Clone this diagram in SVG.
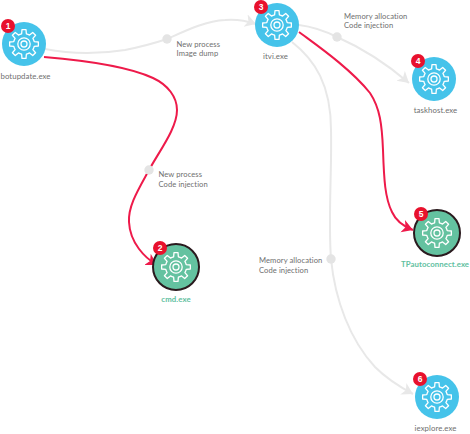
<svg xmlns="http://www.w3.org/2000/svg" width="470" height="434" viewBox="0 0 470 434">
<style>
text{font-family:"Lato","Liberation Sans",sans-serif;font-size:7.6px;fill:#6f6f6f;letter-spacing:.08px}
.name{text-anchor:middle;font-size:7.8px}
.green{fill:#5fc0a0;font-weight:700}
.g{fill:none;stroke:#e8e8e8;stroke-width:2}
.r{fill:none;stroke:#ee1a4a;stroke-width:2}
.dot{fill:#e4e4e4}
.blue{fill:#45c3ea}
.teal{fill:#64c2a0;stroke:#2a1a1e;stroke-width:2}
.gear{fill:none;stroke:#fff;stroke-width:1.3;stroke-linejoin:round}
.badge{fill:#e8112d}
.num{fill:#fff;font-size:8.5px;font-weight:900;text-anchor:middle;letter-spacing:0;font-family:"Liberation Sans",sans-serif}
</style>
<defs>
<g id="gear">
<path d="M14.36-2.02L14.36 2.02L10.23 2.36A10.5 10.5 0 0 1 8.9 5.56L11.58 8.73L8.73 11.58L5.56 8.9A10.5 10.5 0 0 1 2.36 10.23L2.02 14.36L-2.02 14.36L-2.36 10.23A10.5 10.5 0 0 1-5.56 8.9L-8.73 11.58L-11.58 8.73L-8.9 5.56A10.5 10.5 0 0 1-10.23 2.36L-14.36 2.02L-14.36-2.02L-10.23-2.36A10.5 10.5 0 0 1-8.9-5.56L-11.58-8.73L-8.73-11.58L-5.56-8.9A10.5 10.5 0 0 1-2.36-10.23L-2.02-14.36L2.02-14.36L2.36-10.23A10.5 10.5 0 0 1 5.56-8.9L8.73-11.58L11.58-8.73L8.9-5.56A10.5 10.5 0 0 1 10.23-2.36Z"/>
<circle r="6.2"/><circle r="3"/>
</g>
<marker id="ag" markerUnits="userSpaceOnUse" markerWidth="14" markerHeight="14" refX="11" refY="6.5" orient="auto"><path d="M0 0L11 6.5L0 13L3 6.5Z" fill="#e8e8e8"/></marker>
<marker id="ar" markerUnits="userSpaceOnUse" markerWidth="14" markerHeight="14" refX="11" refY="6.5" orient="auto"><path d="M0 0L11 6.5L0 13L3 6.5Z" fill="#ee1a4a"/></marker>
</defs>
<g id="connectors">
<path class="g" marker-end="url(#ag)" d="M45 49C70 54 100 54 125 50C140 47 155 43 167 39C185 31 205 21 225 20C236 19 247 21 256 24"/>
<path class="g" marker-end="url(#ag)" d="M299 25C315 27 327 32 337 37C362 48 388 65 409 83"/>
<path class="g" marker-end="url(#ag)" d="M292 42C315 60 331 85 331 130C332 170 328 220 331 259C335 300 350 340 375 367C386 378 400 387 413 394"/>
<path class="r" marker-end="url(#ar)" d="M44 57C80 60 125 65 153 78C168 85 177 97 177 110C177 128 160 150 149 170C138 190 128 206 129 222C130 243 145 258 157 265"/>
<path class="r" marker-end="url(#ar)" d="M299 32C315 44 350 68 370 93C380 108 382 125 383 150C384 180 385 198 392 212C396 221 405 227 413 230"/>
<circle class="dot" cx="337" cy="37" r="4.7"/>
<circle class="dot" cx="149" cy="170" r="4.7"/>
<circle class="dot" cx="331" cy="259" r="4.7"/>
<circle class="dot" cx="167" cy="39" r="4.7"/>
</g>
<g id="labels">
<text x="176.500" y="46.500">New process</text><text x="176.500" y="56">Image dump</text>
<text x="344" y="18.500">Memory allocation</text><text x="344" y="28">Code injection</text>
<text x="158.500" y="177">New process</text><text x="158.500" y="187">Code injection</text>
<text x="259" y="263">Memory allocation</text><text x="259" y="272.500">Code injection</text>
</g>
<g id="n1"><circle class="blue" cx="24" cy="44" r="22"/><use href="#gear" class="gear" x="24" y="44"/><circle class="badge" cx="8" cy="26" r="7"/><text class="num" x="8" y="29">1</text><text class="name" x="25.500" y="79">botupdate.exe</text></g>
<g id="n2"><circle class="teal" cx="176" cy="267" r="23"/><use href="#gear" class="gear" x="176" y="267"/><circle class="badge" cx="160" cy="248" r="7"/><text class="num" x="160" y="251">2</text><text class="name green" x="176" y="302">cmd.exe</text></g>
<g id="n3"><circle class="blue" cx="277" cy="25" r="22"/><use href="#gear" class="gear" x="277" y="25"/><circle class="badge" cx="261" cy="7" r="7"/><text class="num" x="261" y="10">3</text><text class="name" x="275.500" y="59">itvi.exe</text></g>
<g id="n4"><circle class="blue" cx="434" cy="79" r="22"/><use href="#gear" class="gear" x="434" y="79"/><circle class="badge" cx="418" cy="61" r="7"/><text class="num" x="418" y="64">4</text><text class="name" x="435.500" y="113">taskhost.exe</text></g>
<g id="n5"><circle class="teal" cx="437" cy="233" r="23"/><use href="#gear" class="gear" x="437" y="233"/><circle class="badge" cx="421" cy="214" r="7"/><text class="num" x="421" y="217">5</text><text class="name green" x="435" y="267">TPautoconnect.exe</text></g>
<g id="n6"><circle class="blue" cx="437" cy="397" r="22"/><use href="#gear" class="gear" x="437" y="397"/><circle class="badge" cx="420" cy="379" r="7"/><text class="num" x="420" y="382">6</text><text class="name" x="435.500" y="431">iexplore.exe</text></g>
</svg>
